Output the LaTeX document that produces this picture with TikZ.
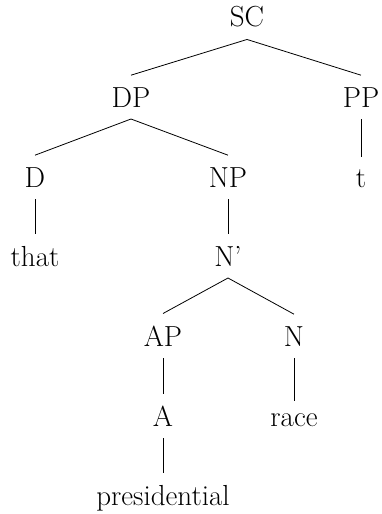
\documentclass[tikz,border=0pt]{standalone}
\usepackage{fontspec}
\begin{document}
\begin{tikzpicture}[x=1pt,y=-1pt,
  lbl/.style={anchor=base,inner xsep=0pt,inner ysep=12pt,outer sep=0pt,font=\fontsize{29}{34}\selectfont},
  br/.style={line width=0.8pt}]
\useasboundingbox (0,0) rectangle (381,514);
\node[lbl] (sc) at (247,27) {SC};
\node[lbl] (dp) at (131,107) {DP};
\node[lbl] (pp) at (361,107) {PP};
\node[lbl] (d) at (35,187) {D};
\node[lbl] (np) at (228,187) {NP};
\node[lbl] (t) at (361,187) {t};
\node[lbl] (that) at (35,266) {that};
\node[lbl] (nbar) at (228,266) {N’};
\node[lbl] (ap) at (163,346) {AP};
\node[lbl] (n) at (294,346) {N};
\node[lbl] (a) at (163,426) {A};
\node[lbl] (race) at (294,426) {race};
\node[lbl] (pres) at (163,505) {presidential};
\draw[br] (sc.south) -- (dp.north);
\draw[br] (sc.south) -- (pp.north);
\draw[br] (dp.south) -- (d.north);
\draw[br] (dp.south) -- (np.north);
\draw[br] (pp.south) -- (t.north);
\draw[br] (d.south) -- (that.north);
\draw[br] (np.south) -- (nbar.north);
\draw[br] (nbar.south) -- (ap.north);
\draw[br] (nbar.south) -- (n.north);
\draw[br] (ap.south) -- (a.north);
\draw[br] (n.south) -- (race.north);
\draw[br] (a.south) -- (pres.north);
\end{tikzpicture}
\end{document}
